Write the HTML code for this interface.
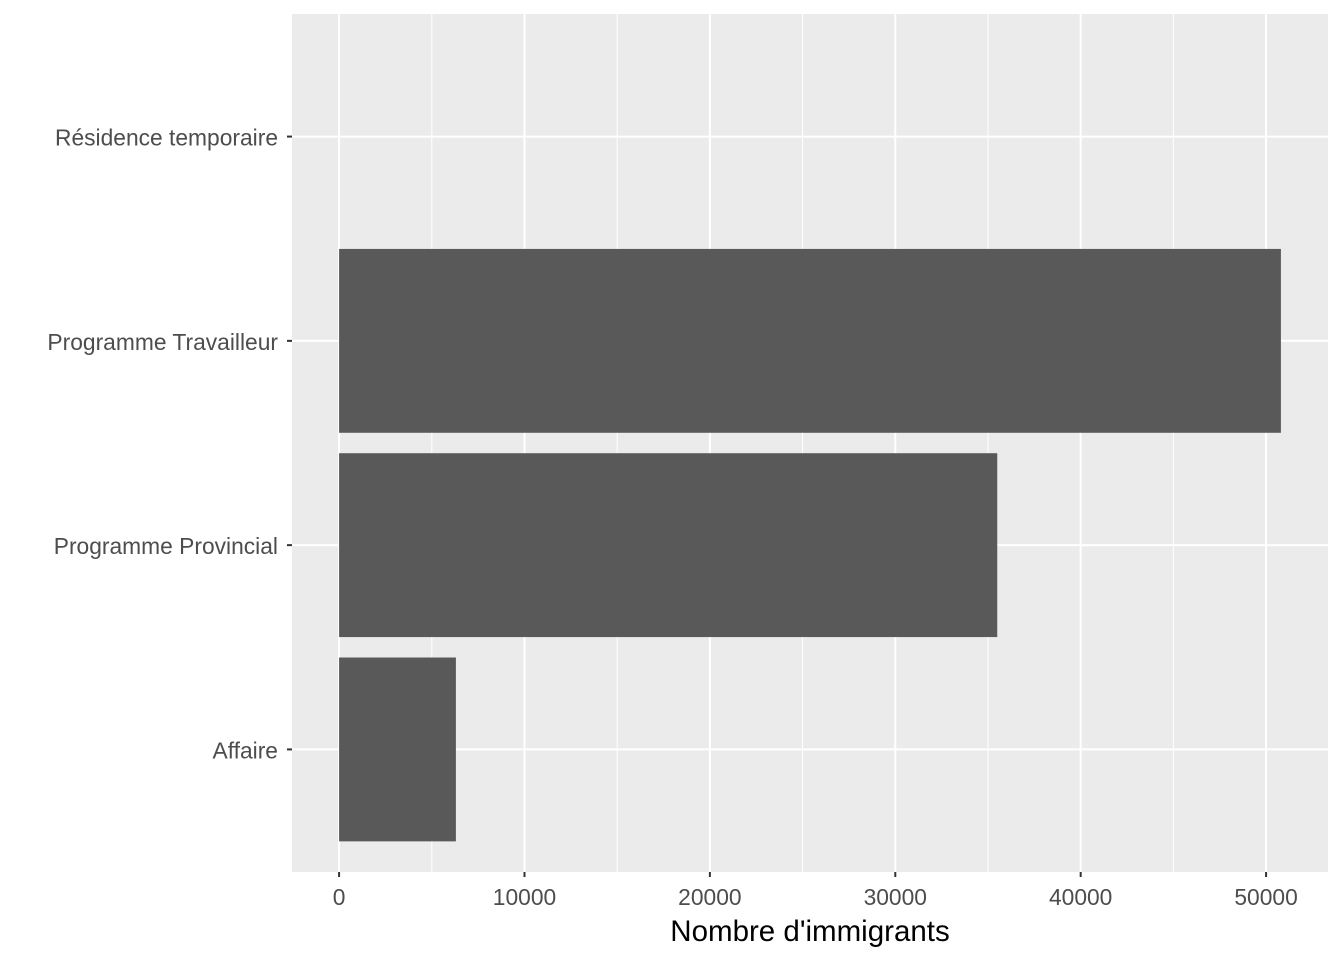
<!DOCTYPE html>
<html><head><meta charset="utf-8"><style>
body{margin:0;background:#fff;}
svg{display:block;font-family:"Liberation Sans",Arial,sans-serif;}
</style></head><body>
<svg id="chart" width="1344" height="960"></svg>
<script>
const categories = ["Affaire","Programme Provincial","Programme Travailleur","Résidence temporaire"];
const values = [6300, 35500, 50800, 0];
const xTicks = [0,10000,20000,30000,40000,50000];
const xTickLabels = ["0","10000","20000","30000","40000","50000"];

const NS="http://www.w3.org/2000/svg";
const svg=document.getElementById('chart');
const pL=292,pR=1328,pT=14,pB=872;
const xMin=-2540,xMax=53340;
function xs(v){return pL+(v-xMin)/(xMax-xMin)*(pR-pL);}
function ys(i){const u=(pB-pT)/(categories.length+0.2);return pB-(i+0.6)*u;}
const band=(pB-pT)/(categories.length+0.2);
function el(t,a,p){const e=document.createElementNS(NS,t);for(const k in a)e.setAttribute(k,a[k]);(p||svg).appendChild(e);return e;}

const panel=el('rect',{x:pL,y:pT,width:pR-pL,height:pB-pT,fill:'#EBEBEB'});


for(let i=0;i<xTicks.length-1;i++){
  const m=(xTicks[i]+xTicks[i+1])/2;
  const g=el('line',{x1:xs(m),x2:xs(m),y1:pT,y2:pB,stroke:'#fff','stroke-width':1});
  
  
}
xTicks.forEach((t,i)=>{
  const g=el('line',{x1:xs(t),x2:xs(t),y1:pT,y2:pB,stroke:'#fff','stroke-width':2});
  
  
  const tk=el('line',{x1:xs(t),x2:xs(t),y1:pB,y2:pB+5,stroke:'#333','stroke-width':2});
  
  
  const tx=el('text',{x:xs(t),y:pB+33,'text-anchor':'middle','font-size':22.8,fill:'#4D4D4D'});
  tx.textContent=xTickLabels[i];
  
  
});
categories.forEach((c,i)=>{
  const y=ys(i);
  const g=el('line',{x1:pL,x2:pR,y1:y,y2:y,stroke:'#fff','stroke-width':2});
  
  
  const tk=el('line',{x1:pL-5,x2:pL,y1:y,y2:y,stroke:'#333','stroke-width':2});
  
  
  const tx=el('text',{x:pL-14,y:y+9,'text-anchor':'end','font-size':22.8,fill:'#4D4D4D'});
  tx.textContent=c;
  
  
});
categories.forEach((c,i)=>{
  const h=band*0.9;
  const x0=xs(0),x1=xs(values[i]);
  const b=el('rect',{x:x0,y:ys(i)-h/2,width:Math.max(0,x1-x0),height:h,fill:'#595959'});
  
  
});
const xt=el('text',{x:(pL+pR)/2,y:941,'text-anchor':'middle','font-size':29.5,fill:'#000'});
xt.textContent="Nombre d'immigrants";


</script>
</body></html>
